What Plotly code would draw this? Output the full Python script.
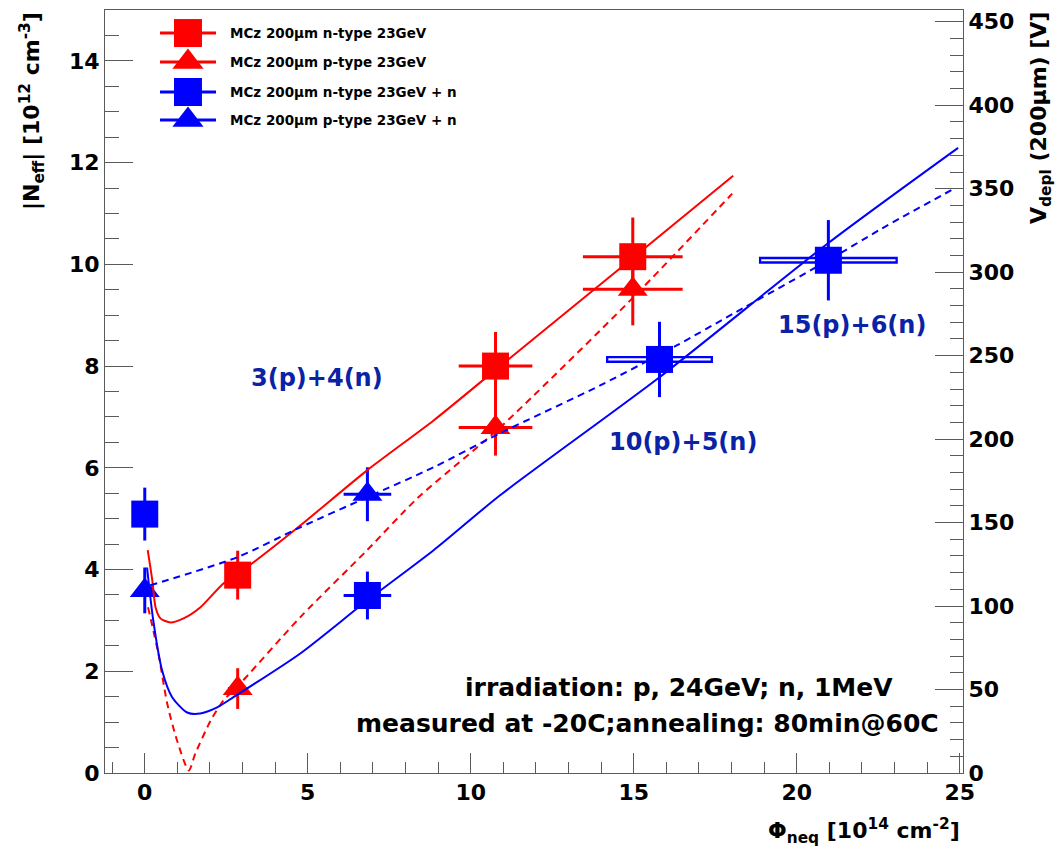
import plotly.graph_objects as go

# ---- measured points: |Neff| [1e12 cm^-3] vs fluence [1e14 cm^-2] ----
n23_x = [2.85, 10.76, 14.97]
n23_y = [3.89, 8.00, 10.15]
n23_ex = [0.30, 1.13, 1.53]
n23_ey = [0.48, 0.67, 0.77]

p23_x = [2.85, 10.76, 14.97]
p23_y = [1.66, 6.79, 9.51]
p23_ex = [0.30, 1.13, 1.53]
p23_ey = [0.40, 0.55, 0.71]

nn_x = [0.0, 6.83, 15.79, 20.97]
nn_y = [5.09, 3.49, 8.13, 10.08]
nn_ex = [0.0, 0.73, 1.64, 2.13]
nn_ey = [0.52, 0.47, 0.74, 0.79]

pn_x = [0.0, 6.83]
pn_y = [3.59, 5.48]
pn_ex = [0.0, 0.73]
pn_ey = [0.45, 0.53]

# ---- fitted curves, sampled ----
fit_n23_x = [0.09, 0.23, 0.33, 0.48, 0.79, 1.19, 1.71, 2.42, 3.29, 4.78, 6.82, 8.86, 10.75, 14.98, 18.05]
fit_n23_y = [4.38, 3.79, 3.26, 3.04, 2.96, 3.04, 3.26, 3.73, 4.12, 4.87, 5.95, 6.93, 7.92, 10.13, 11.74]

fit_p23_x = [0.10, 0.42, 0.69, 0.99, 1.35, 1.55, 2.02, 2.42, 2.83, 4.78, 6.82, 8.36, 10.91, 15.00, 18.02]
fit_p23_y = [3.26, 2.34, 1.36, 0.64, 0.05, 0.38, 1.03, 1.43, 1.69, 3.07, 4.38, 5.40, 6.80, 9.36, 11.39]

fit_nn_x = [0.07, 0.26, 0.53, 0.84, 1.30, 1.70, 2.22, 2.72, 4.77, 6.82, 8.86, 10.90, 15.79, 20.97, 24.95]
fit_nn_y = [4.04, 3.00, 2.02, 1.49, 1.19, 1.17, 1.29, 1.49, 2.35, 3.39, 4.38, 5.46, 7.78, 10.42, 12.29]

fit_pn_x = [0.17, 2.83, 4.77, 6.82, 8.86, 10.90, 13.97, 16.33, 18.05, 20.97, 22.60, 24.86]
fit_pn_y = [3.69, 4.24, 4.83, 5.42, 6.01, 6.68, 7.62, 8.41, 9.03, 10.08, 10.70, 11.50]

series_names = [
    "MCz 200\u03bcm n-type 23GeV",
    "MCz 200\u03bcm p-type 23GeV",
    "MCz 200\u03bcm n-type 23GeV + n",
    "MCz 200\u03bcm p-type 23GeV + n",
]
fluence_labels = ["3(p)+4(n)", "10(p)+5(n)", "15(p)+6(n)"]

# depletion voltage of a 200 um sensor per 1e12 cm^-3
V_PER_NEFF = 30.47
Y_MAX = 15.0

RED = "#ff0000"
BLUE = "#0000ff"
LABEL_BLUE = "#0a22a6"
AXIS = "#5a5a5a"
FONT = "DejaVu Sans"


def bars(arr, color, thick=3):
    return dict(type="data", array=arr, visible=True, color=color,
                thickness=thick, width=0)


fig = go.Figure()

# hollow horizontal bars for the two highest mixed-fluence points
hollow = slice(2, None)
fig.add_trace(go.Scatter(
    x=nn_x[hollow], y=nn_y[hollow], mode="markers",
    marker=dict(color="rgba(0,0,0,0)", size=1),
    error_x=bars(nn_ex[hollow], BLUE, 7), showlegend=False, hoverinfo="skip"))
fig.add_trace(go.Scatter(
    x=nn_x[hollow], y=nn_y[hollow], mode="markers",
    marker=dict(color="rgba(0,0,0,0)", size=1),
    error_x=bars([e - 0.07 for e in nn_ex[hollow]], "white", 2.2),
    showlegend=False, hoverinfo="skip"))

nn_ex_plain = [e if i < 2 else 0.0 for i, e in enumerate(nn_ex)]

points = [
    (n23_x, n23_y, n23_ex, n23_ey, RED, "square", 27),
    (p23_x, p23_y, p23_ex, p23_ey, RED, "triangle-up", 26),
    (nn_x, nn_y, nn_ex_plain, nn_ey, BLUE, "square", 27),
    (pn_x, pn_y, pn_ex, pn_ey, BLUE, "triangle-up", 26),
]
for (xs, ys, ex, ey, col, sym, sz), name in zip(points, series_names):
    fig.add_trace(go.Scatter(
        x=xs, y=ys, mode="markers", name=name,
        marker=dict(symbol=sym, size=sz, color=col, line=dict(width=0)),
        error_x=bars(ex, col), error_y=bars(ey, col), showlegend=False))

curves = [
    (fit_n23_x, fit_n23_y, RED, "solid"),
    (fit_p23_x, fit_p23_y, RED, "7px,5px"),
    (fit_nn_x, fit_nn_y, BLUE, "solid"),
    (fit_pn_x, fit_pn_y, BLUE, "7px,5px"),
]
for xs, ys, col, dash in curves:
    fig.add_trace(go.Scatter(
        x=xs, y=ys, mode="lines", line=dict(color=col, width=2, dash=dash,
                                            shape="spline", smoothing=0.7),
        showlegend=False, hoverinfo="skip"))

# dummy trace so the right-hand voltage axis is drawn
fig.add_trace(go.Scatter(x=[None], y=[None], yaxis="y2", showlegend=False))

# ---- hand-drawn legend box in plot-area fractions ----
leg_rows = [0.9698, 0.9318, 0.8925, 0.8557]
leg_x_marker = 0.0967
leg_styles = [(RED, "square", 28), (RED, "triangle-up", 27),
              (BLUE, "square", 28), (BLUE, "triangle-up", 27)]
shapes = []
annotations = []
for yy, (col, sym, sz), name in zip(leg_rows, leg_styles, series_names):
    shapes.append(dict(type="line", xref="paper", yref="paper",
                       x0=0.0641, x1=0.1294, y0=yy, y1=yy,
                       line=dict(color=col, width=3)))
    fig.add_trace(go.Scatter(
        x=[leg_x_marker], y=[yy], xaxis="x3", yaxis="y3", mode="markers",
        marker=dict(symbol=sym, size=sz, color=col), showlegend=False,
        hoverinfo="skip"))
    annotations.append(dict(
        text=name, x=0.1434, y=yy, xref="paper", yref="paper",
        xanchor="left", yanchor="middle", showarrow=False,
        font=dict(family=FONT, size=13.5, color="black", weight="bold")))

# fluence labels next to the mixed-irradiation points
for txt, (lx, ly) in zip(fluence_labels, [(5.27, 7.76), (16.52, 6.50), (21.70, 8.80)]):
    annotations.append(dict(
        text=txt, x=lx, y=ly, xref="x", yref="y", showarrow=False,
        xanchor="center", yanchor="middle",
        font=dict(family=FONT, size=24, color=LABEL_BLUE, weight="bold")))

annotations += [
    dict(text="irradiation: p, 24GeV; n, 1MeV", x=0.9207, y=0.1121,
         xref="paper", yref="paper", xanchor="right", yanchor="middle",
         showarrow=False,
         font=dict(family=FONT, size=25, color="black", weight="bold")),
    dict(text="measured at -20C;annealing: 80min@60C", x=0.9744, y=0.0649,
         xref="paper", yref="paper", xanchor="right", yanchor="middle",
         showarrow=False,
         font=dict(family=FONT, size=25, color="black", weight="bold")),
    dict(text="\u03a6<sub>neq</sub> [10<sup>14</sup> cm<sup>-2</sup>]",
         x=0.9988, y=-0.0754, xref="paper", yref="paper",
         xanchor="right", yanchor="middle", showarrow=False,
         font=dict(family=FONT, size=22, color="black", weight="bold")),
    dict(text="|N<sub>eff</sub>| [10<sup>12</sup> cm<sup>-3</sup>]",
         x=-0.085, y=1.0, xref="paper", yref="paper", textangle=-90,
         xanchor="center", yanchor="top", showarrow=False,
         font=dict(family=FONT, size=22, color="black", weight="bold")),
    dict(text="V<sub>depl</sub> (200\u03bcm) [V]",
         x=1.0897, y=1.0, xref="paper", yref="paper", textangle=-90,
         xanchor="center", yanchor="top", showarrow=False,
         font=dict(family=FONT, size=22, color="black", weight="bold")),
]

tickfont = dict(family=FONT, size=22, color="black", weight="bold")
common = dict(showgrid=False, zeroline=False, showline=True, linecolor=AXIS,
              linewidth=1, ticks="inside", tickcolor=AXIS, tickwidth=1,
              tickfont=tickfont)

fig.update_layout(
    width=1058, height=851,
    margin=dict(l=105, r=95, t=10, b=78, pad=0),
    paper_bgcolor="white", plot_bgcolor="white",
    xaxis=dict(range=[-1.22, 25.1], tick0=0, dtick=5, ticklen=20, mirror=True,
               minor=dict(dtick=1, ticklen=11, ticks="inside", tickcolor=AXIS),
               **common),
    yaxis=dict(range=[0, Y_MAX], tick0=0, dtick=2, ticklen=28,
               minor=dict(dtick=0.5, ticklen=14, ticks="inside", tickcolor=AXIS),
               **common),
    yaxis2=dict(range=[0, Y_MAX * V_PER_NEFF], overlaying="y", side="right",
                tick0=0, dtick=50, ticklen=28,
                minor=dict(dtick=10, ticklen=13, ticks="inside", tickcolor=AXIS),
                **common),
    xaxis3=dict(overlaying="x", range=[0, 1], visible=False, fixedrange=True),
    yaxis3=dict(overlaying="y", range=[0, 1], visible=False, fixedrange=True),
    shapes=shapes,
    annotations=annotations,
    showlegend=False,
)

fig.write_html("out.html")
